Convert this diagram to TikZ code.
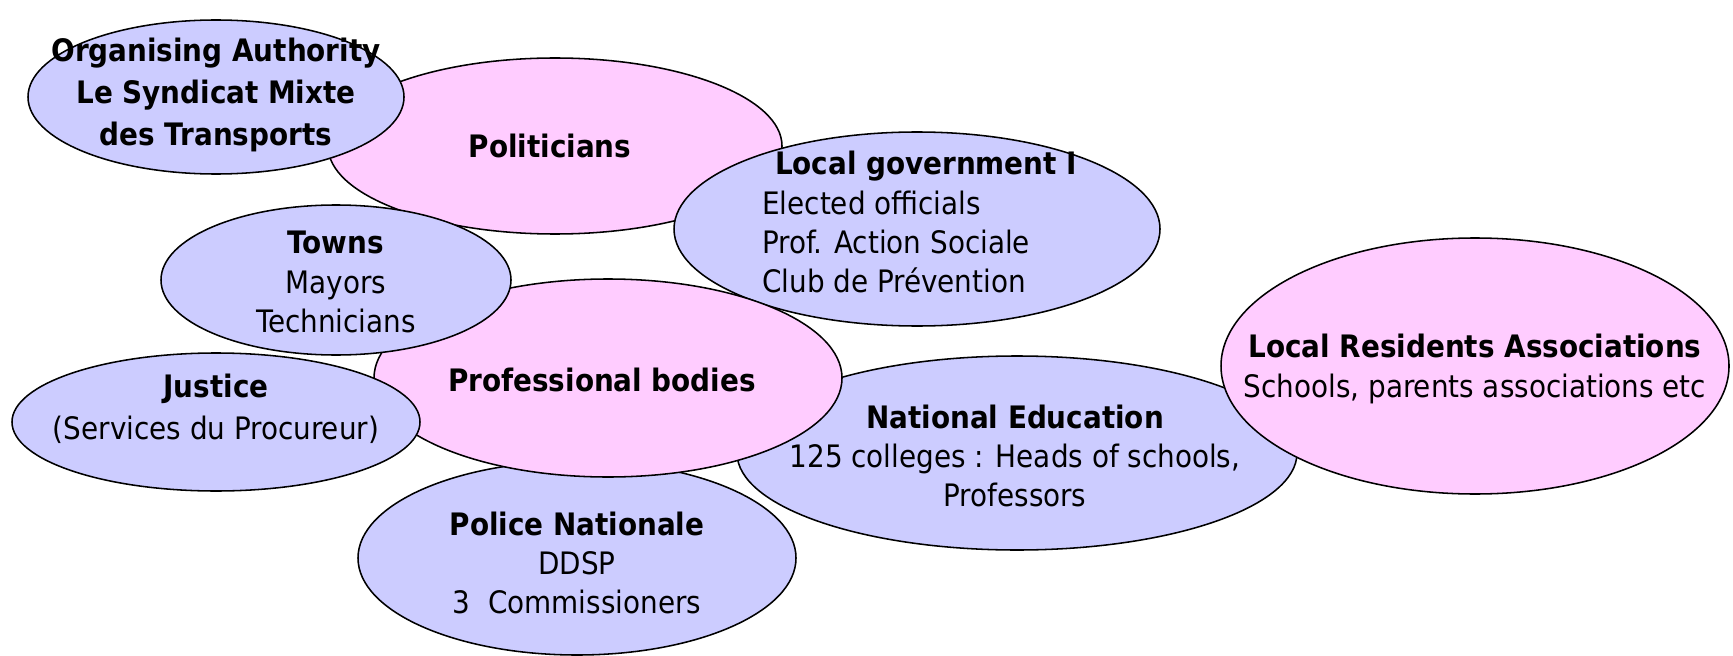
\documentclass[tikz,border=0pt]{standalone}
\usepackage{fontspec}
\setmainfont{DejaVu Sans Condensed}
\usepackage{tikz}
\definecolor{orgblue}{RGB}{204,204,255}
\definecolor{orgpink}{RGB}{255,204,255}

\begin{document}
\begin{tikzpicture}[x=0.025cm, y=-0.025cm,
  blueblob/.style={draw, fill=orgblue, line width=1.1pt},
  pinkblob/.style={draw, fill=orgpink, line width=1.1pt},
  txt/.style={font=\fontsize{22}{28}\selectfont, align=center, inner sep=0pt}]
\useasboundingbox (0,0) rectangle (1733,656);

% Top row: politicians, with the authority and local government over it
\draw[pinkblob] (555,146) ellipse [x radius=227, y radius=88];
\node[txt, font=\fontsize{22}{28}\selectfont\bfseries] (pol) at (550,146) {Politicians};

\draw[blueblob] (216,97) ellipse [x radius=188, y radius=77];
\node[txt, font=\fontsize{22}{30}\selectfont\bfseries] (orga) at (216,95)
  {Organising Authority\\Le Syndicat Mixte\\des Transports};

\draw[blueblob] (917,229) ellipse [x radius=243, y radius=97];
\node[txt, font=\fontsize{22}{28}\selectfont\bfseries] (lgov) at (926,166) {Local government I};
\node[txt, align=left, anchor=west] (lgovsub) at (762,242)
  {Elected officials\\Prof. Action Sociale\\Club de Prévention};

% Middle: education and police under the professional bodies
\draw[blueblob] (1017,453) ellipse [x radius=280, y radius=97];
\node[txt] (educ) at (1015,456)
  {\textbf{National Education}\\125 colleges : Heads of schools,\\Professors};

\draw[blueblob] (577,558) ellipse [x radius=219, y radius=97];
\node[txt] (police) at (577,563) {\textbf{Police Nationale}\\DDSP\\3~~Commissioners};

\draw[pinkblob] (608,378) ellipse [x radius=234, y radius=99];
\node[txt, font=\fontsize{22}{28}\selectfont\bfseries] (prof) at (602,380) {Professional bodies};

\draw[blueblob] (336,280) ellipse [x radius=175, y radius=75];
\node[txt] (towns) at (336,282) {\textbf{Towns}\\Mayors\\Technicians};

\draw[blueblob] (216,422) ellipse [x radius=204, y radius=69];
\node[txt, font=\fontsize{22}{30}\selectfont] (justice) at (216,409)
  {\textbf{Justice}\\(Services du Procureur)};

% Right hand side
\draw[pinkblob] (1475,366) ellipse [x radius=254, y radius=128];
\node[txt] (resid) at (1475,369)
  {\textbf{Local Residents Associations}\\Schools, parents associations etc};
\end{tikzpicture}
\end{document}
